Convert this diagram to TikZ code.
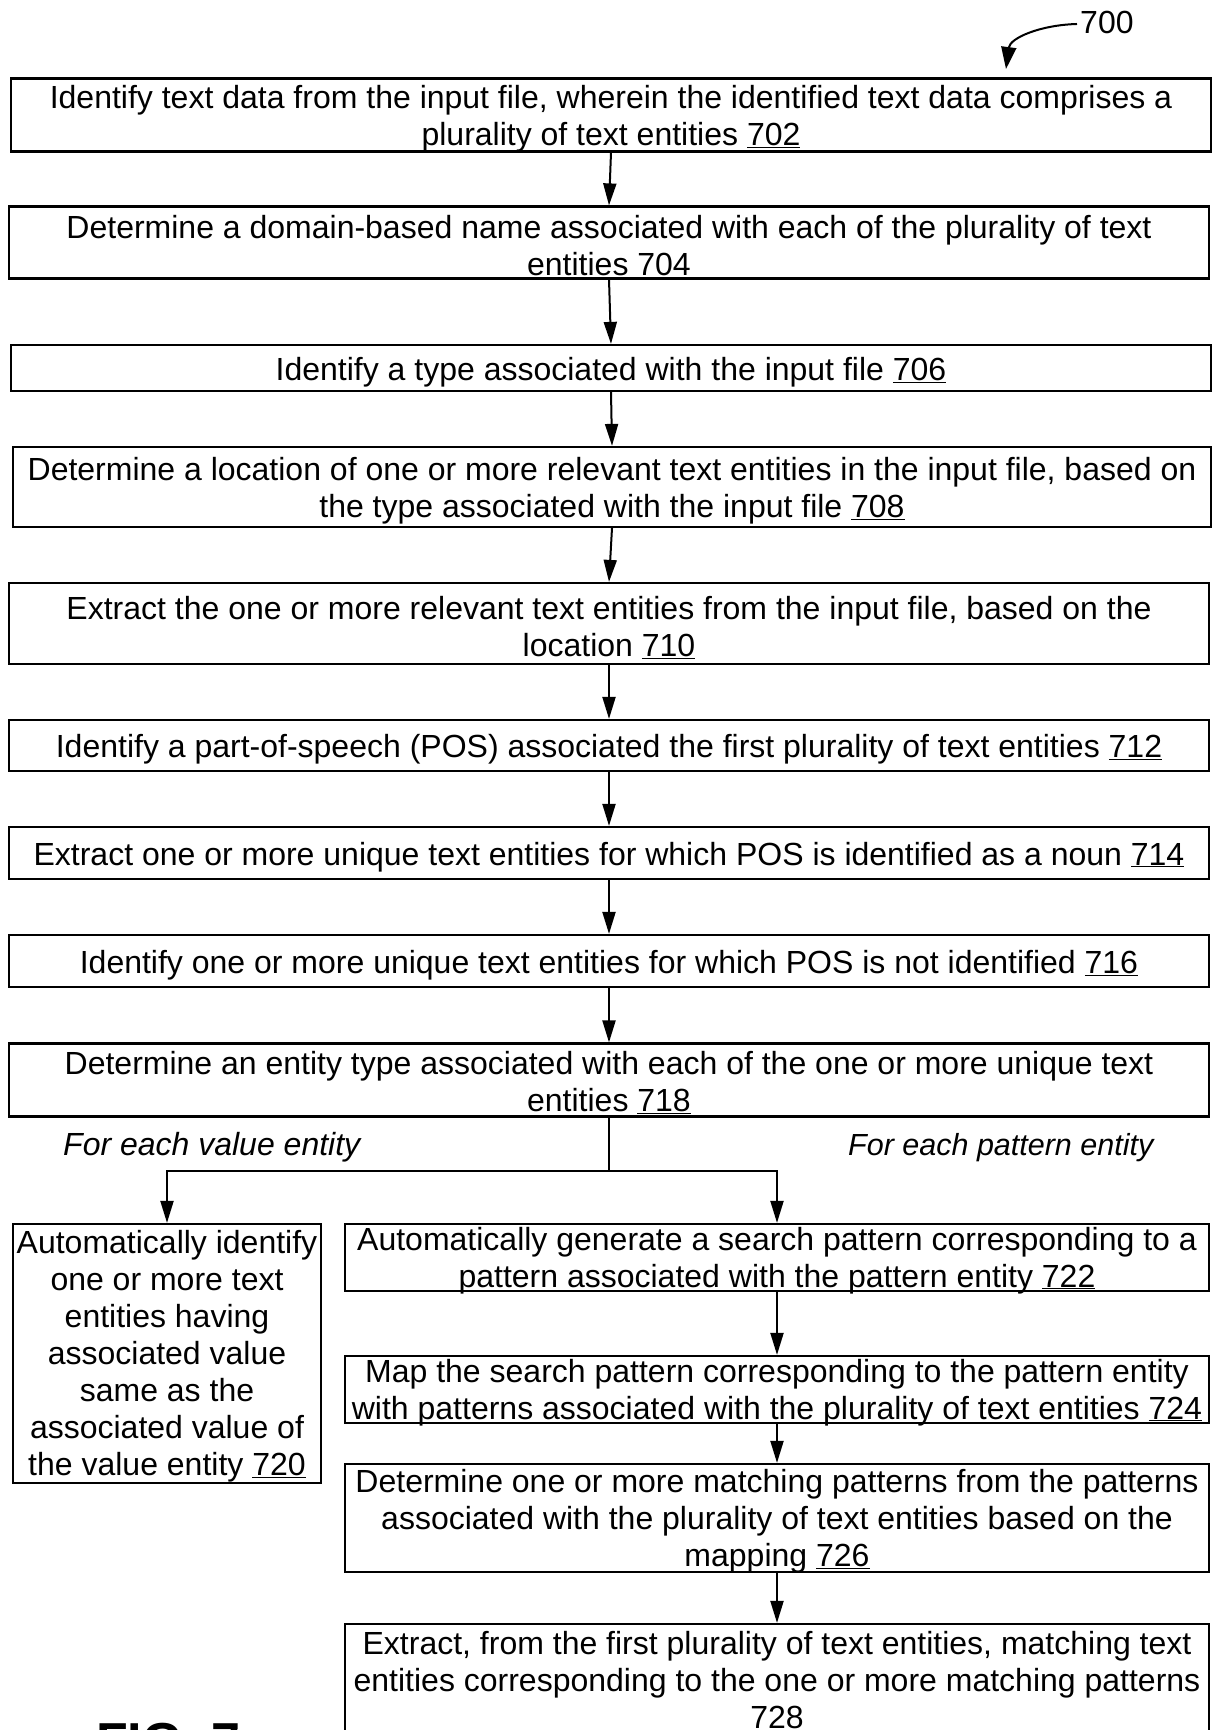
\documentclass[tikz,border=0pt]{standalone}
\usepackage{fontspec}
\setmainfont{Liberation Sans}
\usetikzlibrary{arrows.meta}
\begin{document}
\begin{tikzpicture}[x=1pt,y=-1pt,
  box/.style={draw, line width=2.2pt, inner sep=0pt},
  txt/.style={align=center, inner sep=0pt, font=\fontsize{32}{37}\selectfont},
  conn/.style={line width=2pt},
  arr/.style={line width=2pt, -{Triangle[length=22pt,width=13pt]}},
  lbl/.style={font=\fontsize{32}{37}\selectfont\itshape, anchor=base west, inner sep=0pt}]
\useasboundingbox (0,0) rectangle (1212,1730);

\node[anchor=base west, inner sep=0pt, font=\fontsize{32}{37}\selectfont] (n700) at (1080,33) {700};
\coordinate (c700) at (1006,69);
\draw[line width=2pt, -{Triangle[length=22pt,width=15pt]}] ([xshift=-3pt,yshift=-2pt]n700.west) .. controls (1040,25) and (1010,38) .. (c700);

\node[box, minimum width=1200pt, minimum height=73pt] (b702) at (611,115) {};
\node[txt] (t702) at ([yshift=-4pt]b702.center) {Identify text data from the input file, wherein the identified text data comprises a\\plurality of text entities \underline{702}};
\node[box, minimum width=1200pt, minimum height=72pt] (b704) at (609,242.5) {};
\node[txt] (t704) at ([yshift=-4pt]b704.center) {Determine a domain-based name associated with each of the plurality of text\\entities \underline{704}};
\node[box, minimum width=1200pt, minimum height=46pt] (b706) at (611,368) {};
\node[txt] (t706) at ([yshift=-4pt]b706.center) {Identify a type associated with the input file \underline{706}};
\node[box, minimum width=1198pt, minimum height=80pt] (b708) at (612,487) {};
\node[txt] (t708) at ([yshift=-4pt]b708.center) {Determine a location of one or more relevant text entities in the input file, based on\\the type associated with the input file \underline{708}};
\node[box, minimum width=1200pt, minimum height=81pt] (b710) at (609,623.5) {};
\node[txt] (t710) at ([yshift=-4pt]b710.center) {Extract the one or more relevant text entities from the input file, based on the\\location \underline{710}};
\node[box, minimum width=1200pt, minimum height=51pt] (b712) at (609,745.5) {};
\node[txt] (t712) at ([yshift=-4pt]b712.center) {Identify a part-of-speech (POS) associated the first plurality of text entities \underline{712}};
\node[box, minimum width=1200pt, minimum height=52pt] (b714) at (609,853) {};
\node[txt] (t714) at ([yshift=-4pt]b714.center) {Extract one or more unique text entities for which POS is identified as a noun \underline{714}};
\node[box, minimum width=1200pt, minimum height=52pt] (b716) at (609,961) {};
\node[txt] (t716) at ([yshift=-4pt]b716.center) {Identify one or more unique text entities for which POS is not identified \underline{716}};
\node[box, minimum width=1200pt, minimum height=73pt] (b718) at (609,1080) {};
\node[txt] (t718) at ([yshift=-3pt]b718.center) {Determine an entity type associated with each of the one or more unique text\\entities \underline{718}};

\node[lbl] (lv) at (63,1155) {For each value entity};
\node[lbl, font=\fontsize{30.5}{37}\selectfont\itshape] (lp) at (848,1155) {For each pattern entity};

\node[box, minimum width=308pt, minimum height=259pt] (b720) at (167,1353.5) {};
\node[txt] (t720) at ([yshift=-3pt]b720.center) {Automatically identify\\one or more text\\entities having\\associated value\\same as the\\associated value of\\the value entity \underline{720}};
\node[box, minimum width=864pt, minimum height=67pt] (b722) at (777,1257.5) {};
\node[txt] (t722) at ([yshift=-3pt]b722.center) {Automatically generate a search pattern corresponding to a\\pattern associated with the pattern entity \underline{722}};
\node[box, minimum width=864pt, minimum height=67pt] (b724) at (777,1389.5) {};
\node[txt] (t724) at ([yshift=-3pt]b724.center) {Map the search pattern corresponding to the pattern entity\\with patterns associated with the plurality of text entities \underline{724}};
\node[box, minimum width=864pt, minimum height=108pt] (b726) at (777,1518) {};
\node[txt] (t726) at ([yshift=-3pt]b726.center) {Determine one or more matching patterns from the patterns\\associated with the plurality of text entities based on the\\mapping \underline{726}};
\node[box, minimum width=864pt, minimum height=114pt] (b728) at (777,1681) {};
\node[txt] (t728) at (b728.center) {Extract, from the first plurality of text entities, matching text\\entities corresponding to the one or more matching patterns\\\underline{728}};

\node[font=\fontsize{52}{60}\selectfont\bfseries, anchor=base west, inner sep=0pt] (fig) at (96,1759) {FIG. 7};

\draw[arr] (b702.south) -- (b704.north);
\draw[arr] (b704.south) -- (b706.north);
\draw[arr] (b706.south) -- (b708.north);
\draw[arr] (b708.south) -- (b710.north);
\draw[arr] (b710.south) -- (b712.north);
\draw[arr] (b712.south) -- (b714.north);
\draw[arr] (b714.south) -- (b716.north);
\draw[arr] (b716.south) -- (b718.north);

\coordinate (split) at (609,1171);
\draw[conn] (b718.south) -- (split);
\draw[arr] (split) -| (b720.north);
\draw[arr] (split) -| (b722.north);

\draw[arr] (b722.south) -- (b724.north);
\draw[arr] (b724.south) -- (b726.north);
\draw[arr] (b726.south) -- (b728.north);
\end{tikzpicture}
\end{document}
